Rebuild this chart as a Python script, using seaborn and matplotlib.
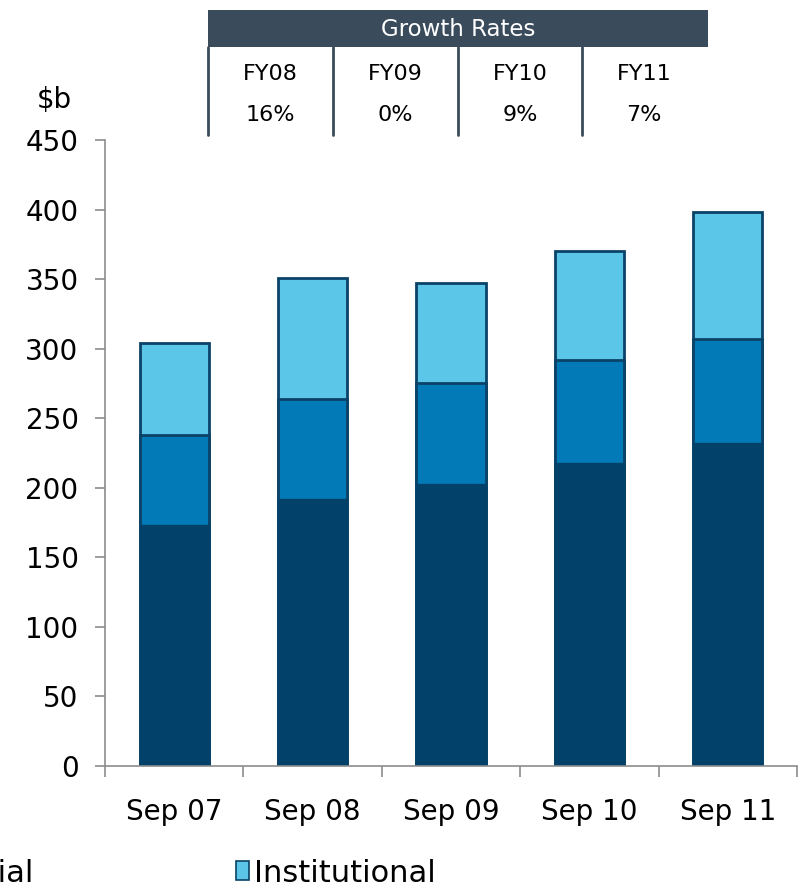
import matplotlib
matplotlib.use("Agg")
import matplotlib.pyplot as plt
import matplotlib.patches as mpatches
from matplotlib.lines import Line2D
from matplotlib.ticker import FixedLocator
import pandas as pd
import seaborn as sns

# dados
periodos = ["Sep 07", "Sep 08", "Sep 09", "Sep 10", "Sep 11"]
retail = [173, 192, 203, 218, 232]
commercial = [65, 72, 72, 74, 75]
institutional = [66, 87, 72, 78, 91]
anos_fy = ["FY08", "FY09", "FY10", "FY11"]
crescimento = ["16%", "0%", "9%", "7%"]
nomes_series = ["Retail", "Commercial", "Institutional"]

cor_escura = "#02426a"
cor_media = "#037ab8"
cor_clara = "#5cc6e8"
cor_borda = "#0b4267"
cor_eixo = "#8c8c8c"

W, H = 803, 889

sns.set_theme(style="white")
plt.rcParams["font.family"] = ["DejaVu Sans"]
plt.rcParams["text.color"] = "black"

df = pd.DataFrame({"Periodo": periodos, "Retail": retail,
                   "Commercial": commercial, "Institutional": institutional})
df["nivel1"] = df["Retail"]
df["nivel2"] = df["Retail"] + df["Commercial"]
df["nivel3"] = df["nivel2"] + df["Institutional"]

fig = plt.figure(figsize=(W / 100, H / 100), dpi=100)
ax = fig.add_axes([105 / W, (H - 766) / H, (797 - 105) / W, (766 - 140) / H])

sns.barplot(data=df, x="Periodo", y="nivel3", color=cor_clara, saturation=1,
            width=0.5, edgecolor=cor_borda, linewidth=2, ax=ax)
sns.barplot(data=df, x="Periodo", y="nivel2", color=cor_media, saturation=1,
            width=0.5, edgecolor=cor_borda, linewidth=2, ax=ax)
sns.barplot(data=df, x="Periodo", y="nivel1", color=cor_escura, saturation=1,
            width=0.5, edgecolor=cor_escura, linewidth=1, ax=ax)

ax.set_xlim(-0.5, 4.5)
ax.set_ylim(0, 450)
ax.set_yticks(range(0, 451, 50))
ax.set_xlabel("")
ax.set_ylabel("")
for s in ["top", "right"]:
    ax.spines[s].set_visible(False)
for s in ["left", "bottom"]:
    ax.spines[s].set_color(cor_eixo)
    ax.spines[s].set_linewidth(1.2)
ax.xaxis.set_minor_locator(FixedLocator([-0.5, 0.5, 1.5, 2.5, 3.5, 4.5]))
ax.tick_params(axis="y", which="major", left=True, right=False, length=7,
               width=1.2, color=cor_eixo, labelsize=20, pad=12, labelcolor="black")
ax.tick_params(axis="x", which="major", bottom=False, top=False, labelsize=20,
               pad=17, labelcolor="black")
ax.tick_params(axis="x", which="minor", bottom=True, top=False, length=8,
               width=1.2, color=cor_eixo)

# "$b"
fig.text(37 / W, 1 - 100 / H, "$b", fontsize=20, va="center", ha="left")

# tabela de crescimento no topo
def fx(x):
    return x / W

def fy(y):
    return 1 - y / H

fig.add_artist(mpatches.Rectangle((fx(208), fy(47)), fx(708) - fx(208),
                                  fy(10) - fy(47), transform=fig.transFigure,
                                  facecolor="#3a4b5c", edgecolor="none"))
fig.text(fx(458), fy(29), "Growth Rates", color="white", fontsize=16.5,
         ha="center", va="center")
bordas = [208, 333, 458, 582]
for i, (ano, taxa) in enumerate(zip(anos_fy, crescimento)):
    x0 = bordas[i]
    fig.add_artist(Line2D([fx(x0), fx(x0)], [fy(47), fy(135)],
                          transform=fig.transFigure, color="#3a4b5c", lw=2))
    fig.text(fx(x0 + 62), fy(74), ano, fontsize=16, ha="center", va="center")
    fig.text(fx(x0 + 62), fy(115), taxa, fontsize=16, ha="center", va="center")

# legenda (parcialmente cortada, como no original)
handles = [mpatches.Patch(facecolor=c, edgecolor=cor_borda, linewidth=1.2)
           for c in [cor_escura, cor_media, cor_clara]]
fig.legend(handles, nomes_series, ncol=3, loc="center right",
           bbox_to_anchor=(448 / W, 1 - 873 / H), frameon=False, fontsize=22,
           handlelength=0.45, handleheight=0.55, handletextpad=0.15,
           columnspacing=6.62, borderaxespad=0, labelcolor="black")

fig.savefig("out.png", dpi=100)
